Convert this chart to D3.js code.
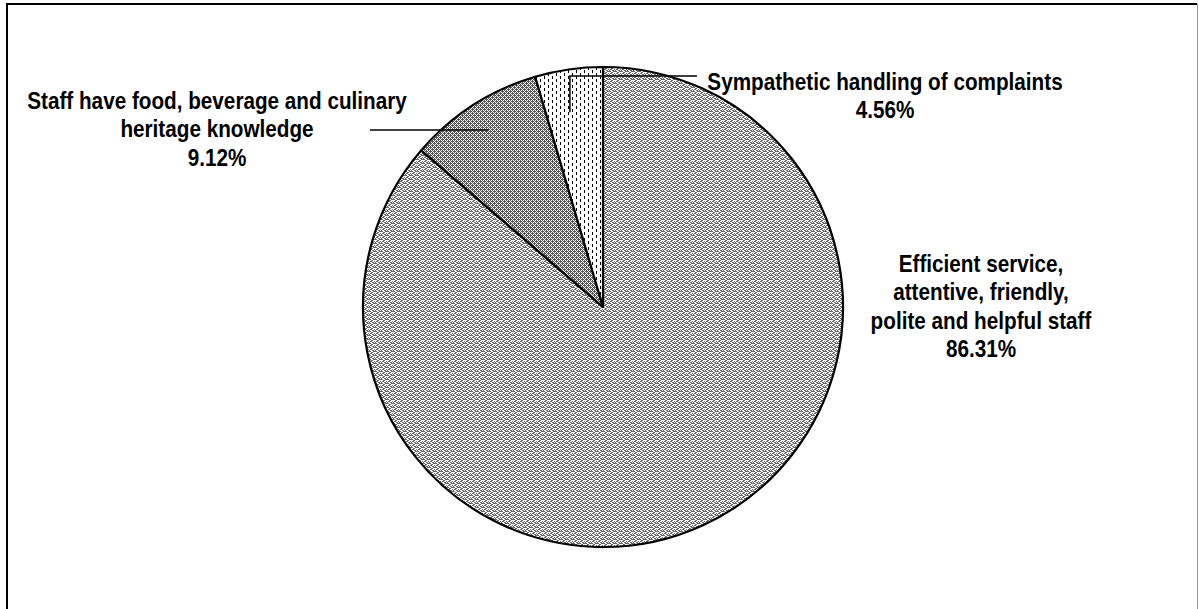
<!DOCTYPE html>
<html>
<head>
<meta charset="utf-8">
<script src="https://cdn.jsdelivr.net/npm/d3@7"></script>
<style>
  body { margin: 0; background: #fff; }
  text { font-family: "Liberation Sans", Arial, sans-serif; font-weight: bold; font-size: 23px; fill: #000; }
</style>
</head>
<body>
<svg id="chart" width="1199" height="609"></svg>
<script>
// ##### Pie chart: staff / service attributes #####
var categories = [
  "Efficient service, attentive, friendly, polite and helpful staff",
  "Staff have food, beverage and culinary heritage knowledge",
  "Sympathetic handling of complaints"
];
var values = [86.31, 9.12, 4.56];
// how each label is broken into lines
var labelLines = [
  ["Efficient service,", "attentive, friendly,", "polite and helpful staff"],
  ["Staff have food, beverage and culinary", "heritage knowledge"],
  ["Sympathetic handling of complaints"]
];

var width = 1199, height = 609,
  cx = 603, cy = 307, radius = 240;

var svg = d3.select("#chart");

// frame (bottom edge runs off the page)
svg.append("path")
  .attr("d", "M7,620 L7,4 L1197,4")
  .attr("fill", "none").attr("stroke", "#000").attr("stroke-width", 2);
svg.append("line")
  .attr("x1", 1197.5).attr("y1", 4).attr("x2", 1197.5).attr("y2", 620)
  .attr("stroke", "#999").attr("stroke-width", 1);

// fill patterns
var defs = svg.append("defs");

// small wave for the big slice
var p0 = defs.append("pattern").attr("id", "pat0")
  .attr("patternUnits", "userSpaceOnUse").attr("width", 6).attr("height", 4);
p0.append("rect").attr("width", 6).attr("height", 4).attr("fill", "#fff");
[[0, 0, 2], [2, 1, 2], [4, 0, 2], [1, 2, 2], [3, 3, 2], [5, 2, 1], [0, 3, 1]].forEach(function(d) {
  p0.append("rect").attr("x", d[0]).attr("y", d[1]).attr("width", d[2]).attr("height", 1).attr("fill", "#666");
});

// denser dots for the middle slice
var p1 = defs.append("pattern").attr("id", "pat1")
  .attr("patternUnits", "userSpaceOnUse").attr("width", 4).attr("height", 4);
p1.append("rect").attr("width", 4).attr("height", 4).attr("fill", "#fff");
[[0, 0], [2, 0], [1, 1], [0, 2], [3, 1], [1, 3], [2, 2], [3, 3], [3, 0], [1, 2]].forEach(function(d) {
  p1.append("rect").attr("x", d[0]).attr("y", d[1]).attr("width", 1).attr("height", 1)
    .attr("fill", "#555");
});

// vertical dashes for the small slice
var p2 = defs.append("pattern").attr("id", "pat2")
  .attr("patternUnits", "userSpaceOnUse").attr("width", 8).attr("height", 6);
p2.append("rect").attr("width", 8).attr("height", 6).attr("fill", "#fff");
p2.append("rect").attr("x", 1).attr("y", 0).attr("width", 1).attr("height", 3).attr("fill", "#000");
p2.append("rect").attr("x", 5).attr("y", 3).attr("width", 1).attr("height", 3).attr("fill", "#000");

var pie = d3.pie().sort(null).value(function(d) { return d; });
var arcs = pie(values);
var arc = d3.arc().innerRadius(0).outerRadius(radius);

var g = svg.append("g").attr("transform", "translate(" + cx + "," + cy + ")");

g.selectAll("path.slice")
  .data(arcs)
  .enter()
  .append("path")
  .attr("class", "slice")
  .attr("d", arc)
  .attr("fill", function(d, i) { return "url(#pat" + i + ")"; })
  .attr("stroke", "#000")
  .attr("stroke-width", 2.2)
  .attr("stroke-linejoin", "round");

// point inside a slice at a fraction of the radius
function inner(d, k) {
  var a = (d.startAngle + d.endAngle) / 2;
  return [cx + Math.sin(a) * radius * k, cy - Math.cos(a) * radius * k];
}

// leader lines
var pStaff = inner(arcs[1], 0.88);
svg.append("path")
  .attr("d", "M" + pStaff[0] + "," + 130 + " L370,130")
  .attr("fill", "none").attr("stroke", "#000").attr("stroke-width", 1.5);

var pSym = inner(arcs[2], 0.82);
svg.append("path")
  .attr("d", "M" + (pSym[0] - 5) + "," + pSym[1] + " L" + (pSym[0] - 5) + ",76 L697,76")
  .attr("fill", "none").attr("stroke", "#000").attr("stroke-width", 1.5);

// labels (narrow bold face, squeezed horizontally)
var labelPos = [
  { x: 981, y: 272 },
  { x: 217, y: 109 },
  { x: 885, y: 90 }
];
var lineH = 28.5;

labelLines.forEach(function(lines, i) {
  var t = svg.append("text")
    .attr("text-anchor", "middle")
    .attr("transform", "translate(" + labelPos[i].x + "," + labelPos[i].y + ") scale(0.9,1)");
  lines.concat([values[i].toFixed(2) + "%"]).forEach(function(s, j) {
    t.append("tspan")
      .attr("x", 0)
      .attr("dy", j === 0 ? 0 : lineH)
      .text(s);
  });
});
</script>
</body>
</html>
